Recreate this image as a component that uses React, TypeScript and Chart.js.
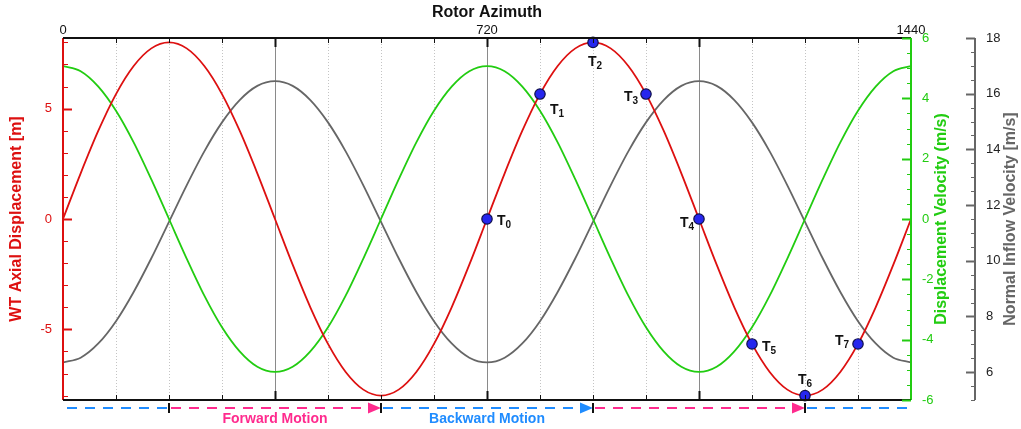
import { useEffect, useRef } from "react";
import { Chart, registerables } from "chart.js";

Chart.register(...registerables);

// Rotor azimuth samples [deg]
const AZIMUTH = [
  0, 30, 60, 90, 120, 150, 180, 210, 240, 270, 300, 330, 360, 390, 420, 450, 480, 510, 540, 570, 600, 630, 660, 690,
  720, 750, 780, 810, 840, 870, 900, 930, 960, 990, 1020, 1050, 1080, 1110, 1140, 1170, 1200, 1230, 1260, 1290, 1320,
  1350, 1380, 1410, 1440,
];

// WT axial displacement [m]
const DISPLACEMENT = [
  0, 2.07, 4.0, 5.66, 6.93, 7.73, 8.0, 7.73, 6.93, 5.66, 4.0, 2.07, 0, -2.07, -4.0, -5.66, -6.93, -7.73, -8.0, -7.73,
  -6.93, -5.66, -4.0, -2.07, 0, 2.07, 4.0, 5.66, 6.93, 7.73, 8.0, 7.73, 6.93, 5.66, 4.0, 2.07, 0, -2.07, -4.0, -5.66,
  -6.93, -7.73, -8.0, -7.73, -6.93, -5.66, -4.0, -2.07, 0,
];

// Displacement velocity [m/s]
const VELOCITY = [
  5.07, 4.9, 4.39, 3.59, 2.54, 1.31, 0, -1.31, -2.54, -3.59, -4.39, -4.9, -5.07, -4.9, -4.39, -3.59, -2.54, -1.31, 0,
  1.31, 2.54, 3.59, 4.39, 4.9, 5.07, 4.9, 4.39, 3.59, 2.54, 1.31, 0, -1.31, -2.54, -3.59, -4.39, -4.9, -5.07, -4.9,
  -4.39, -3.59, -2.54, -1.31, 0, 1.31, 2.54, 3.59, 4.39, 4.9, 5.07,
];

// Normal inflow velocity [m/s]
const INFLOW = [
  6.35, 6.52, 7.03, 7.83, 8.88, 10.09, 11.4, 12.71, 13.93, 14.97, 15.77, 16.28, 16.45, 16.28, 15.77, 14.97, 13.93,
  12.71, 11.4, 10.09, 8.88, 7.83, 7.03, 6.52, 6.35, 6.52, 7.03, 7.83, 8.88, 10.09, 11.4, 12.71, 13.93, 14.97, 15.77,
  16.28, 16.45, 16.28, 15.77, 14.97, 13.93, 12.71, 11.4, 10.09, 8.88, 7.83, 7.03, 6.52, 6.35,
];

// Marked time instants T0..T7
const T_NAMES = ["0", "1", "2", "3", "4", "5", "6", "7"];
const T_AZIMUTH = [720, 810, 900, 990, 1080, 1170, 1260, 1350];
const T_DISP = [0, 5.66, 8.0, 5.66, 0, -5.66, -8.0, -5.66];

// Axis ticks
const X_LABELS = [0, 720, 1440];
const X_GRID = [90, 180, 270, 360, 450, 540, 630, 720, 810, 900, 990, 1080, 1170, 1260, 1350];
const DISP_LABELS = [-5, 0, 5];
const VEL_LABELS = [-6, -4, -2, 0, 2, 4, 6];
const INFLOW_LABELS = [6, 8, 10, 12, 14, 16, 18];

// Motion phases along the azimuth
const MOTION_BREAKS = [0, 180, 540, 900, 1260, 1440];
const MOTION_KIND = ["backward", "forward", "backward", "forward", "backward"];
const MOTION_TEXT = ["Forward Motion", "Backward Motion"];
const MOTION_TEXT_AT = [360, 720];

const FONT = '"Liberation Sans", Arial, Helvetica, sans-serif';
const RED = "#dd1010";
const GREEN = "#22cc11";
const GRAY = "#666666";
const PINK = "#ff2b8e";
const BLUE = "#1f8cff";

// label placement for each T marker: [dx, dy, align]
const T_PLACE: [number, number, "left" | "right"][] = [
  [10, 6, "left"],
  [10, 20, "left"],
  [-5, 24, "left"],
  [-8, 7, "right"],
  [-5, 8, "right"],
  [10, 7, "left"],
  [-7, -12, "left"],
  [-9, 1, "right"],
];

function vText(ctx: CanvasRenderingContext2D, text: string, x: number, y: number, color: string, font: string) {
  ctx.save();
  ctx.translate(x, y);
  ctx.rotate(-Math.PI / 2);
  ctx.textAlign = "center";
  ctx.textBaseline = "middle";
  ctx.fillStyle = color;
  ctx.font = font;
  ctx.fillText(text, 0, 0);
  ctx.restore();
}

function line(ctx: CanvasRenderingContext2D, x0: number, y0: number, x1: number, y1: number) {
  ctx.beginPath();
  ctx.moveTo(x0, y0);
  ctx.lineTo(x1, y1);
  ctx.stroke();
}

const chrome = {
  id: "chrome",
  beforeDatasetsDraw(chart: any) {
    const { ctx, chartArea } = chart;
    const { top, bottom } = chartArea;
    const x = chart.scales.x;
    ctx.save();
    ctx.lineWidth = 1;
    for (const a of X_GRID) {
      const px = Math.round(x.getPixelForValue(a)) + 0.5;
      const major = a % 360 === 0;
      ctx.strokeStyle = major ? "#8a8a8a" : "#c4c4c4";
      ctx.setLineDash(major ? [] : [1, 2]);
      line(ctx, px, top, px, bottom);
    }
    ctx.restore();
  },
  afterDatasetsDraw(chart: any) {
    const { ctx, chartArea } = chart;
    const { left, right, top, bottom } = chartArea;
    const { x, y, y1, y2 } = chart.scales;
    ctx.save();
    ctx.setLineDash([]);

    // frame
    ctx.lineWidth = 2;
    ctx.strokeStyle = RED;
    line(ctx, left, top, left, bottom);
    ctx.strokeStyle = GREEN;
    line(ctx, right, top, right, bottom);
    ctx.strokeStyle = "#111";
    line(ctx, left, top, right, top);
    line(ctx, left, bottom, right, bottom);
    ctx.strokeStyle = GRAY;
    const gx = y2.left + 1;
    line(ctx, gx, top, gx, bottom);

    // azimuth ticks (top and bottom, pointing inwards)
    ctx.strokeStyle = "#111";
    for (const a of X_GRID) {
      const px = Math.round(x.getPixelForValue(a)) + 0.5;
      const len = a % 360 === 0 ? 9 : 5;
      ctx.lineWidth = a % 360 === 0 ? 2 : 1;
      line(ctx, px, top, px, top + len);
      line(ctx, px, bottom, px, bottom - len);
    }

    // displacement ticks
    ctx.strokeStyle = RED;
    for (let v = -8; v <= 8; v += 1) {
      const py = Math.round(y.getPixelForValue(v)) + 0.5;
      const major = v % 5 === 0;
      ctx.lineWidth = major ? 2 : 1;
      line(ctx, left, py, left + (major ? 9 : 5), py);
    }
    // velocity ticks
    ctx.strokeStyle = GREEN;
    for (let v = -6; v <= 6; v += 0.5) {
      const py = Math.round(y1.getPixelForValue(v)) + 0.5;
      const major = Math.abs(v % 2) < 1e-9;
      ctx.lineWidth = major ? 2 : 1;
      line(ctx, right, py, right - (major ? 9 : 4), py);
    }
    // inflow ticks
    ctx.strokeStyle = GRAY;
    for (let v = 5; v <= 18; v += 0.5) {
      const py = Math.round(y2.getPixelForValue(v)) + 0.5;
      const major = Math.abs(v % 2) < 1e-9;
      ctx.lineWidth = major ? 2 : 1;
      line(ctx, gx, py, gx - (major ? 9 : 4), py);
    }

    // tick labels
    ctx.font = `13px ${FONT}`;
    ctx.textBaseline = "middle";
    ctx.fillStyle = "#111";
    ctx.textAlign = "center";
    for (const a of X_LABELS) ctx.fillText(String(a), x.getPixelForValue(a), top - 8);
    ctx.fillStyle = RED;
    ctx.textAlign = "right";
    for (const v of DISP_LABELS) ctx.fillText(String(v), left - 11, y.getPixelForValue(v));
    ctx.fillStyle = GREEN;
    ctx.textAlign = "left";
    for (const v of VEL_LABELS) ctx.fillText(String(v), right + 11, y1.getPixelForValue(v));
    ctx.fillStyle = "#222";
    for (const v of INFLOW_LABELS) ctx.fillText(String(v), gx + 11, y2.getPixelForValue(v));

    // axis titles
    const midY = (top + bottom) / 2;
    ctx.fillStyle = "#111";
    ctx.textAlign = "center";
    ctx.font = `bold 16px ${FONT}`;
    ctx.fillText("Rotor Azimuth", (left + right) / 2, 13);
    vText(ctx, "WT Axial Displacement [m]", 16.5, midY, RED, `bold 16px ${FONT}`);
    vText(ctx, "Displacement Velocity (m/s)", 942, midY, GREEN, `bold 16px ${FONT}`);
    vText(ctx, "Normal Inflow Velocity [m/s]", 1011, midY, GRAY, `bold 16px ${FONT}`);
    ctx.restore();
  },
  afterDraw(chart: any) {
    const { ctx, chartArea } = chart;
    const { bottom } = chartArea;
    const { x, y } = chart.scales;
    ctx.save();

    // T labels with subscripts
    ctx.fillStyle = "#111";
    ctx.textBaseline = "alphabetic";
    ctx.textAlign = "left";
    T_AZIMUTH.forEach((a, i) => {
      const px = x.getPixelForValue(a);
      const py = y.getPixelForValue(T_DISP[i]);
      const [dx, dy, align] = T_PLACE[i];
      ctx.font = `bold 14px ${FONT}`;
      const w1 = ctx.measureText("T").width;
      ctx.font = `bold 10px ${FONT}`;
      const w2 = ctx.measureText(T_NAMES[i]).width;
      const x0 = align === "right" ? px + dx - w1 - w2 : px + dx;
      ctx.font = `bold 14px ${FONT}`;
      ctx.fillText("T", x0, py + dy);
      ctx.font = `bold 10px ${FONT}`;
      ctx.fillText(T_NAMES[i], x0 + w1, py + dy + 3);
    });

    // motion phase arrows under the axis
    const my = bottom + 8;
    const n = MOTION_KIND.length;
    for (let i = 0; i < n; i++) {
      const color = MOTION_KIND[i] === "forward" ? PINK : BLUE;
      const arrow = i > 0 && i < n - 1;
      let x0 = x.getPixelForValue(MOTION_BREAKS[i]);
      let x1 = x.getPixelForValue(MOTION_BREAKS[i + 1]);
      if (i === 0) x0 += 4;
      if (i === n - 1) x1 -= 3;
      ctx.strokeStyle = color;
      ctx.lineWidth = 2;
      ctx.setLineDash([10, 8]);
      line(ctx, x0 + (i > 0 ? 2 : 0), my, arrow ? x1 - 12 : x1, my);
      if (arrow) {
        ctx.setLineDash([]);
        ctx.fillStyle = color;
        ctx.beginPath();
        ctx.moveTo(x1 - 13, my - 5.5);
        ctx.lineTo(x1, my);
        ctx.lineTo(x1 - 13, my + 5.5);
        ctx.closePath();
        ctx.fill();
      }
    }
    ctx.setLineDash([]);
    ctx.strokeStyle = "#111";
    ctx.lineWidth = 2;
    for (let i = 1; i < MOTION_BREAKS.length - 1; i++) {
      const px = Math.round(x.getPixelForValue(MOTION_BREAKS[i]));
      line(ctx, px, my - 5, px, my + 5);
    }
    ctx.font = `bold 14px ${FONT}`;
    ctx.textAlign = "center";
    ctx.textBaseline = "middle";
    MOTION_TEXT.forEach((t, i) => {
      ctx.fillStyle = i === 0 ? PINK : BLUE;
      ctx.fillText(t, x.getPixelForValue(MOTION_TEXT_AT[i]), bottom + 19);
    });
    ctx.restore();
  },
};

export default function App() {
  const ref = useRef<HTMLCanvasElement | null>(null);

  useEffect(() => {
    const canvas = ref.current;
    if (!canvas) return;
    const pts = (vals: number[]) => AZIMUTH.map((a, i) => ({ x: a, y: vals[i] }));
    const chart = new Chart(canvas, {
      type: "line",
      data: {
        datasets: [
          {
            data: T_AZIMUTH.map((a, i) => ({ x: a, y: T_DISP[i] })),
            yAxisID: "y",
            showLine: false,
            pointRadius: 5.2,
            pointBorderWidth: 1.2,
            pointBackgroundColor: "#2626ee",
            pointBorderColor: "#10104a",
            clip: false,
          },
          {
            data: pts(DISPLACEMENT),
            yAxisID: "y",
            borderColor: RED,
            borderWidth: 1.8,
            pointRadius: 0,
            cubicInterpolationMode: "monotone",
          },
          {
            data: pts(VELOCITY),
            yAxisID: "y1",
            borderColor: GREEN,
            borderWidth: 1.8,
            pointRadius: 0,
            cubicInterpolationMode: "monotone",
          },
          {
            data: pts(INFLOW),
            yAxisID: "y2",
            borderColor: GRAY,
            borderWidth: 1.8,
            pointRadius: 0,
            cubicInterpolationMode: "monotone",
          },
        ],
      },
      options: {
        responsive: false,
        animation: false,
        devicePixelRatio: 1,
        events: [],
        layout: { padding: { left: 0, right: 0, top: 0, bottom: 29 } },
        plugins: { legend: { display: false }, tooltip: { enabled: false } },
        scales: {
          x: {
            type: "linear",
            position: "top",
            min: 0,
            max: 1440,
            grid: { display: false },
            border: { display: false },
            ticks: { display: false },
            afterFit: (s: any) => {
              s.height = 38;
            },
          },
          y: {
            type: "linear",
            position: "left",
            min: -8.2,
            max: 8.2,
            grid: { display: false },
            border: { display: false },
            ticks: { display: false },
            afterFit: (s: any) => {
              s.width = 63;
            },
          },
          y1: {
            type: "linear",
            position: "right",
            min: -6,
            max: 6,
            weight: 0,
            grid: { display: false },
            border: { display: false },
            ticks: { display: false },
            afterFit: (s: any) => {
              s.width = 63;
            },
          },
          y2: {
            type: "linear",
            position: "right",
            min: 5,
            max: 18,
            weight: 1,
            grid: { display: false },
            border: { display: false },
            ticks: { display: false },
            afterFit: (s: any) => {
              s.width = 47;
            },
          },
        },
      } as any,
      plugins: [chrome],
    });
    return () => chart.destroy();
  }, []);

  return (
    <div style={{ position: "fixed", left: 0, top: 0, width: 1021, height: 429, background: "#fff" }}>
      <canvas ref={ref} width={1021} height={429} style={{ display: "block" }} />
    </div>
  );
}
